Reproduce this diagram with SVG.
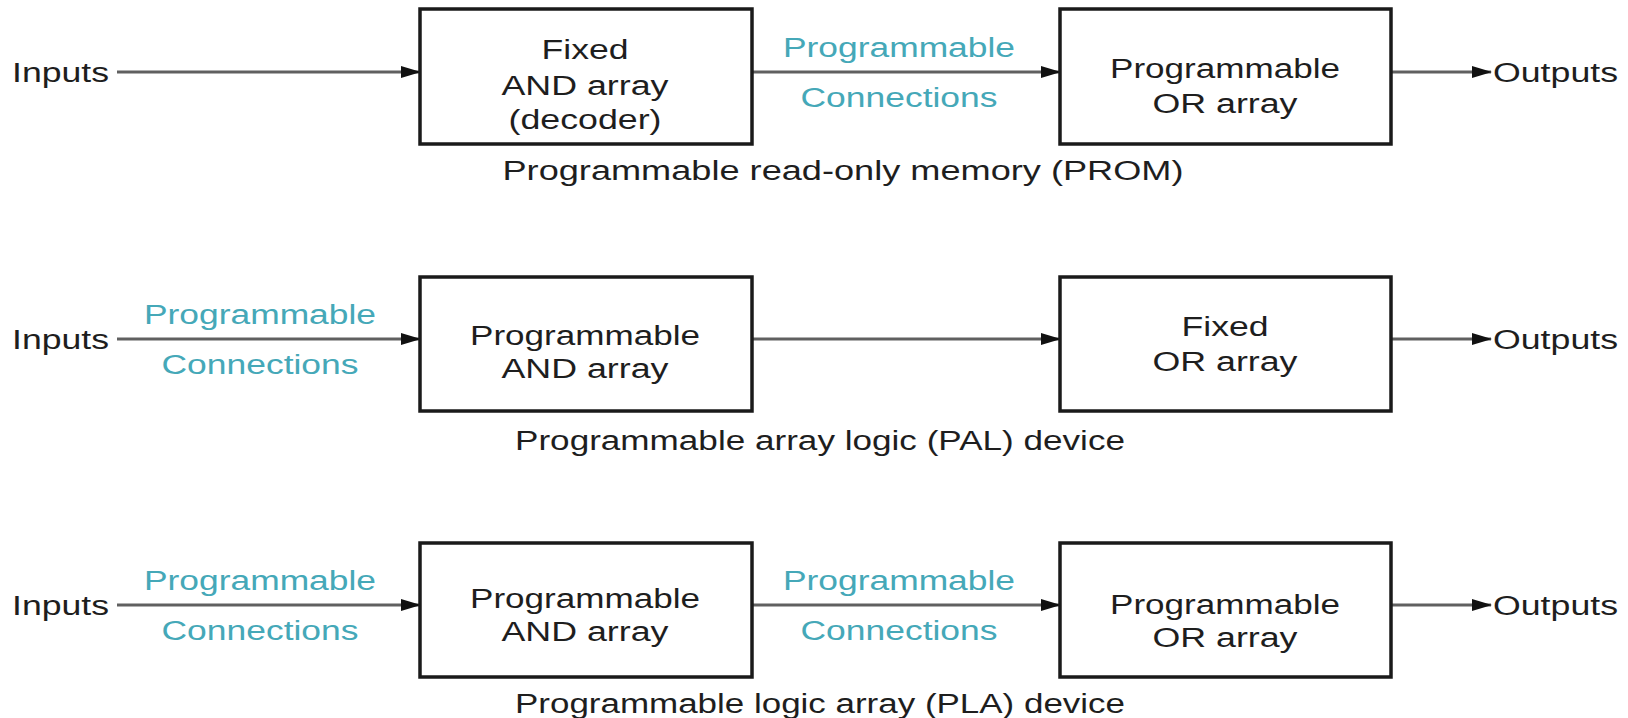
<svg xmlns="http://www.w3.org/2000/svg" width="1628" height="718" viewBox="0 0 1628 718">
<style>
.t{font-family:"Liberation Sans",Arial,sans-serif;font-size:27px;fill:#1e1e1e}
.c{fill:#45a8b8}
.m{text-anchor:middle}
.box{fill:#fff;stroke:#1a1a1a;stroke-width:3.5}
.ln{stroke:#606060;stroke-width:3;fill:none}
</style>
<defs>
<marker id="ah" markerUnits="userSpaceOnUse" markerWidth="20" markerHeight="14" refX="19" refY="7" orient="auto">
<path d="M0,1 L20,7 L0,13 Z" fill="#111"/>
</marker>
</defs>
<rect width="1628" height="718" fill="#fff"/>

<g id="connectors">
<line class="ln" x1="117" y1="72" x2="420" y2="72" marker-end="url(#ah)"/>
<line class="ln" x1="752" y1="72" x2="1060" y2="72" marker-end="url(#ah)"/>
<line class="ln" x1="1391" y1="72" x2="1491" y2="72" marker-end="url(#ah)"/>
<line class="ln" x1="117" y1="339" x2="420" y2="339" marker-end="url(#ah)"/>
<line class="ln" x1="752" y1="339" x2="1060" y2="339" marker-end="url(#ah)"/>
<line class="ln" x1="1391" y1="339" x2="1491" y2="339" marker-end="url(#ah)"/>
<line class="ln" x1="117" y1="605" x2="420" y2="605" marker-end="url(#ah)"/>
<line class="ln" x1="752" y1="605" x2="1060" y2="605" marker-end="url(#ah)"/>
<line class="ln" x1="1391" y1="605" x2="1491" y2="605" marker-end="url(#ah)"/>
</g>

<g id="prom">
<g id="prom-in"><text class="t" x="12" y="82" textLength="97" lengthAdjust="spacingAndGlyphs">Inputs</text></g>
<g id="prom-and">
<rect class="box" x="420" y="9" width="332" height="135"/>
<text class="t m" x="585" y="59" textLength="87" lengthAdjust="spacingAndGlyphs">Fixed</text>
<text class="t m" x="585" y="95" textLength="167" lengthAdjust="spacingAndGlyphs">AND array</text>
<text class="t m" x="585" y="129" textLength="153" lengthAdjust="spacingAndGlyphs">(decoder)</text>
</g>
<g id="prom-conn">
<text class="t c m" x="899" y="57" textLength="232" lengthAdjust="spacingAndGlyphs">Programmable</text>
<text class="t c m" x="899" y="107" textLength="197" lengthAdjust="spacingAndGlyphs">Connections</text>
</g>
<g id="prom-or">
<rect class="box" x="1060" y="9" width="331" height="135"/>
<text class="t m" x="1225" y="78" textLength="230" lengthAdjust="spacingAndGlyphs">Programmable</text>
<text class="t m" x="1225" y="113" textLength="145" lengthAdjust="spacingAndGlyphs">OR array</text>
</g>
<g id="prom-out"><text class="t" x="1493" y="82" textLength="125" lengthAdjust="spacingAndGlyphs">Outputs</text></g>
<g id="prom-cap"><text class="t m" x="843" y="180" textLength="681" lengthAdjust="spacingAndGlyphs">Programmable read-only memory (PROM)</text></g>
</g>

<g id="pal">
<g id="pal-in"><text class="t" x="12" y="349" textLength="97" lengthAdjust="spacingAndGlyphs">Inputs</text></g>
<g id="pal-conn">
<text class="t c m" x="260" y="324" textLength="232" lengthAdjust="spacingAndGlyphs">Programmable</text>
<text class="t c m" x="260" y="374" textLength="197" lengthAdjust="spacingAndGlyphs">Connections</text>
</g>
<g id="pal-and">
<rect class="box" x="420" y="277" width="332" height="134"/>
<text class="t m" x="585" y="345" textLength="230" lengthAdjust="spacingAndGlyphs">Programmable</text>
<text class="t m" x="585" y="378" textLength="167" lengthAdjust="spacingAndGlyphs">AND array</text>
</g>
<g id="pal-or">
<rect class="box" x="1060" y="277" width="331" height="134"/>
<text class="t m" x="1225" y="336" textLength="87" lengthAdjust="spacingAndGlyphs">Fixed</text>
<text class="t m" x="1225" y="371" textLength="145" lengthAdjust="spacingAndGlyphs">OR array</text>
</g>
<g id="pal-out"><text class="t" x="1493" y="349" textLength="125" lengthAdjust="spacingAndGlyphs">Outputs</text></g>
<g id="pal-cap"><text class="t m" x="820" y="450" textLength="610" lengthAdjust="spacingAndGlyphs">Programmable array logic (PAL) device</text></g>
</g>

<g id="pla">
<g id="pla-in"><text class="t" x="12" y="615" textLength="97" lengthAdjust="spacingAndGlyphs">Inputs</text></g>
<g id="pla-conn1">
<text class="t c m" x="260" y="590" textLength="232" lengthAdjust="spacingAndGlyphs">Programmable</text>
<text class="t c m" x="260" y="640" textLength="197" lengthAdjust="spacingAndGlyphs">Connections</text>
</g>
<g id="pla-and">
<rect class="box" x="420" y="543" width="332" height="134"/>
<text class="t m" x="585" y="608" textLength="230" lengthAdjust="spacingAndGlyphs">Programmable</text>
<text class="t m" x="585" y="641" textLength="167" lengthAdjust="spacingAndGlyphs">AND array</text>
</g>
<g id="pla-conn2">
<text class="t c m" x="899" y="590" textLength="232" lengthAdjust="spacingAndGlyphs">Programmable</text>
<text class="t c m" x="899" y="640" textLength="197" lengthAdjust="spacingAndGlyphs">Connections</text>
</g>
<g id="pla-or">
<rect class="box" x="1060" y="543" width="331" height="134"/>
<text class="t m" x="1225" y="614" textLength="230" lengthAdjust="spacingAndGlyphs">Programmable</text>
<text class="t m" x="1225" y="647" textLength="145" lengthAdjust="spacingAndGlyphs">OR array</text>
</g>
<g id="pla-out"><text class="t" x="1493" y="615" textLength="125" lengthAdjust="spacingAndGlyphs">Outputs</text></g>
<g id="pla-cap"><text class="t m" x="820" y="713" textLength="610" lengthAdjust="spacingAndGlyphs">Programmable logic array (PLA) device</text></g>
</g>
</svg>
